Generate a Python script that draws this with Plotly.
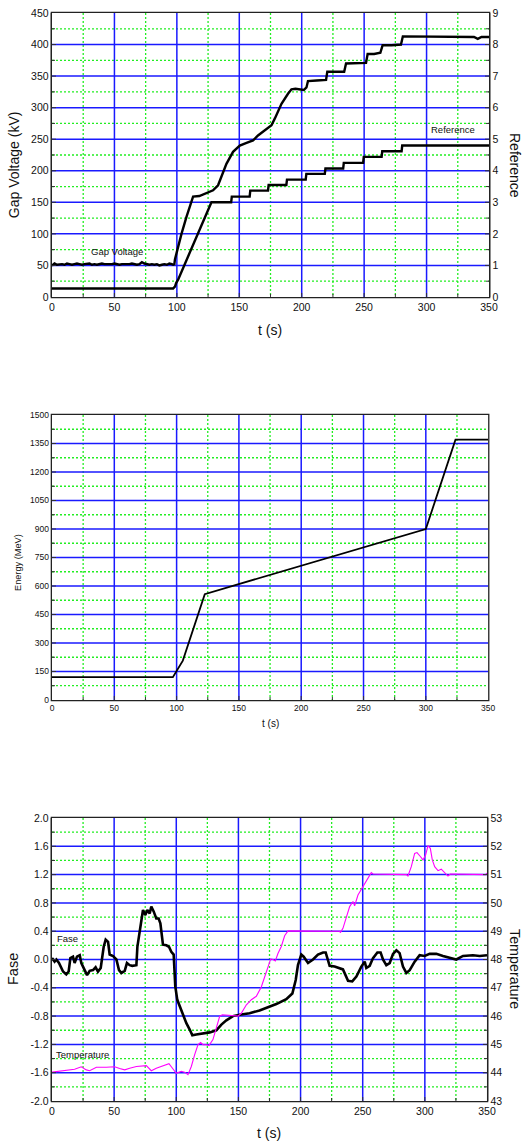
import plotly.graph_objects as go

# ---------------- data: top chart ----------------
gap_t = [0, 2, 4, 6, 8, 10, 12, 14, 16, 18, 20, 22, 24, 26, 28, 30, 32, 34, 36, 38,
         40, 42, 44, 46, 48, 50, 52, 54, 56, 58, 60, 62, 64, 66, 68, 70, 72, 74, 76, 78,
         80, 82, 84, 86, 88, 90, 92, 94, 96,
         97, 98, 98.5, 99.7, 101, 103.7, 107.7, 112.2, 113, 118, 123.7, 129, 133, 135.8,
         139.7, 145, 150.4, 155.8, 161, 165, 170.5, 175.8, 178.5, 183.8, 189, 191.8, 195,
         198.5, 201.7, 203.8, 205, 212, 219.5, 220.5, 228, 234, 235.5, 243, 251.5, 252.8,
         258, 263, 264.8, 272, 279.5, 281, 290, 300, 310, 320, 330, 338, 341, 344, 350]
gap_v = [50, 53, 51, 52, 52, 51, 53, 52, 51, 52, 53, 52, 51, 52, 52, 53, 51, 52, 51, 52,
         53, 52, 52, 51, 52, 53, 52, 51, 52, 52, 51, 52, 53, 52, 51, 52, 55, 53, 52, 51,
         52, 51, 52, 50, 51, 52, 51, 53, 52,
         51, 52, 60, 69, 80, 100, 127, 156, 159, 160, 165, 169, 177, 190,
         211, 230, 240, 244, 248, 256, 264, 272, 283, 306, 322, 329, 330,
         329, 328, 332, 342, 343, 344, 357, 357, 357, 370, 370, 371, 385,
         385, 387, 399, 399, 400, 413, 413, 412, 413, 412, 413, 412, 409, 412, 412]

ref_t = [0, 97, 98.5, 99.5, 101, 127.7, 143.5, 144, 158.3, 158.8, 173, 173.5, 187.7, 188.2,
         203.2, 203.7, 218.5, 219, 233.2, 233.7, 249.2, 249.7, 264, 264.5, 280, 280.5, 350]
ref_v = [0.27, 0.27, 0.33, 0.45, 0.55, 3.0, 3.0, 3.18, 3.18, 3.37, 3.37, 3.55, 3.55, 3.72,
         3.72, 3.9, 3.9, 4.07, 4.07, 4.25, 4.25, 4.44, 4.44, 4.62, 4.62, 4.8, 4.8]

# ---------------- data: middle chart ----------------
energy_t = [0, 97, 105, 114.5, 122.6, 300, 323.8, 350]
energy_v = [120, 120, 207, 395, 557, 900, 1370, 1370]

# ---------------- data: bottom chart ----------------
fase_t = [0, 2.1, 3.5, 5.6, 8.9, 11.5, 13.4, 14.8, 16.9, 18.2, 20.1, 22.3, 23.6, 26.3, 28.2,
          30.3, 33, 35.1, 37, 39.2, 40.5, 41.6, 43.2, 45.1, 46.4, 49.1, 51.8, 53.9, 55.8,
          58.5, 60.3, 62.5, 64.6, 66.5, 67.9, 68.7, 70.5, 71.9, 73.2, 75.1, 76.7, 78.6,
          79.9, 81.8, 83.9, 85.8, 87.2, 89.3, 92, 94.1, 96, 97.9, 99.2, 100.8, 102.7,
          104.9, 108.1, 110.8, 112.9, 116.1, 121.5, 126.9, 132.2, 136.3, 140.3, 145.6,
          151, 159, 167, 175.1, 180.5, 188.5, 193.4, 196.1, 197.9, 200.6, 202.5, 206, 210,
          214, 218.1, 220.2, 223.4, 227.4, 230.1, 234.1, 238.2, 241.6, 244.9, 248.9, 251.6,
          252.9, 255.6, 258.3, 261.8, 264.4, 266.3, 269, 271.7, 274.4, 277.1, 279.7, 282.4,
          285.1, 287.8, 291.8, 295.8, 299.8, 303.9, 309.2, 314.6, 320, 325.3, 330.7, 338.7,
          344.1, 350]
fase_v = [0.02, -0.03, 0.0, -0.05, -0.17, -0.21, -0.17, 0.02, 0.04, -0.05, 0.04, 0.06, -0.05,
          -0.15, -0.22, -0.16, -0.15, -0.11, -0.17, -0.12, 0.07, 0.18, 0.28, 0.25, 0.07,
          0.05, 0.0, -0.15, -0.19, -0.16, -0.05, -0.08, -0.09, -0.08, -0.08, 0.18, 0.37,
          0.58, 0.70, 0.63, 0.70, 0.65, 0.75, 0.68, 0.58, 0.58, 0.51, 0.21, 0.20, 0.18,
          0.11, 0.07, -0.38, -0.57, -0.66, -0.76, -0.90, -0.99, -1.07, -1.06, -1.05,
          -1.03, -1.00, -0.92, -0.86, -0.80, -0.78, -0.76, -0.72, -0.67, -0.63, -0.56,
          -0.48, -0.29, -0.08, 0.07, 0.04, -0.05, 0.0, 0.07, 0.10, 0.10, -0.09, -0.10,
          -0.12, -0.14, -0.30, -0.31, -0.24, -0.10, -0.03, -0.12, -0.09, 0.02, 0.10, 0.10,
          0.0, -0.08, -0.05, 0.08, 0.13, 0.09, -0.10, -0.19, -0.15, -0.03, 0.06, 0.05,
          0.08, 0.08, 0.05, 0.02, 0.0, 0.05, 0.06, 0.05, 0.06]

temp_t = [0, 11.5, 15.6, 18.2, 23.6, 27.6, 30.3, 35.7, 43.7, 50.4, 54.4, 58.5, 62.5, 67.9,
          75.9, 79.9, 83.9, 89.3, 94.1, 97.4, 100, 104, 106.7, 109.4, 112.1, 114.8, 117.5,
          119.6, 121.5, 124.2, 126.3, 129.5, 132.2, 134.9, 137, 149.7, 152.3, 156.4, 160.4,
          164.4, 168.4, 171.1, 173.8, 176, 177.8, 179.7, 181.8, 184.5, 187.2, 189.9, 231.5,
          232, 234.1, 236.8, 239.5, 242.2, 243.5, 246.2, 248.9, 251.6, 254.2, 256.9, 258.3,
          285.1, 286.4, 289.1, 291.8, 293.7, 296.4, 298.5, 300.6, 302.5, 304.4, 306, 307.9,
          310.6, 313.2, 315.9, 318.6, 320.5, 349, 350]
temp_v = [44.02, 44.08, 44.1, 44.12, 44.21, 44.1, 44.07, 44.19, 44.19, 44.21, 44.15, 44.1,
          44.16, 44.22, 44.25, 44.07, 44.16, 44.25, 44.32, 44.13, 43.98, 44.05, 44.02,
          43.93, 44.22, 44.64, 44.99, 45.07, 44.99, 44.99, 44.96, 45.17, 45.63, 45.99,
          46.05, 46.0, 46.1, 46.4, 46.58, 46.7, 47.03, 47.4, 47.75, 48.02, 48.0, 47.95,
          48.21, 48.46, 48.84, 49.01, 49.0, 48.95, 49.1, 49.46, 49.87, 50.05, 49.9, 50.28,
          50.48, 50.69, 50.87, 51.07, 51.02, 51.0, 50.95, 51.28, 51.75, 51.78, 51.64, 51.52,
          51.69, 52.02, 51.93, 51.52, 51.28, 51.14, 51.19, 51.07, 50.95, 51.02, 51.0, 51.05]

# tick labels
t_ticks = [0, 50, 100, 150, 200, 250, 300, 350]
gap_ticks = [0, 50, 100, 150, 200, 250, 300, 350, 400, 450]
ref_ticks = [0, 1, 2, 3, 4, 5, 6, 7, 8, 9]
energy_ticks = [0, 150, 300, 450, 600, 750, 900, 1050, 1200, 1350, 1500]
fase_ticks = [-2.0, -1.6, -1.2, -0.8, -0.4, 0.0, 0.4, 0.8, 1.2, 1.6, 2.0]
fase_labels = ["-2.0", "-1.6", "-1.2", "-0.8", "-0.4", "0.0", "0.4", "0.8", "1.2", "1.6", "2.0"]
temp_ticks = [43, 44, 45, 46, 47, 48, 49, 50, 51, 52, 53]

FONT = "Liberation Sans, Arial, sans-serif"
BLUE = "#1a1aff"
GREEN = "#22ee22"
TXT = "#111111"


def halves(vals):
    """positions midway between consecutive major ticks (minor grid)."""
    return [(a + b) / 2 for a, b in zip(vals[:-1], vals[1:])]


fig = go.Figure()
fig.add_trace(go.Scatter(x=gap_t, y=gap_v, mode="lines", line=dict(color="black", width=2.4),
                         xaxis="x", yaxis="y", showlegend=False, hoverinfo="skip"))
fig.add_trace(go.Scatter(x=ref_t, y=ref_v, mode="lines", line=dict(color="black", width=2.4),
                         xaxis="x", yaxis="y2", showlegend=False, hoverinfo="skip"))
fig.add_trace(go.Scatter(x=energy_t, y=energy_v, mode="lines", line=dict(color="black", width=1.8),
                         xaxis="x2", yaxis="y3", showlegend=False, hoverinfo="skip"))
fig.add_trace(go.Scatter(x=temp_t, y=temp_v, mode="lines", line=dict(color="#ff00ff", width=1.1),
                         xaxis="x3", yaxis="y5", showlegend=False, hoverinfo="skip"))
fig.add_trace(go.Scatter(x=fase_t, y=fase_v, mode="lines", line=dict(color="black", width=2.6),
                         xaxis="x3", yaxis="y4", showlegend=False, hoverinfo="skip"))


def axis(domain, anchor, rng, vals, fs, labels=None, side=None, overlay=None, grid=True):
    d = dict(anchor=anchor, range=rng, tickmode="array", tickvals=vals,
             showgrid=grid, gridcolor=BLUE, gridwidth=1.5, zeroline=False, automargin=False,
             showline=True, linecolor="#222", linewidth=1.3, mirror=True,
             ticks="inside", ticklen=4, tickcolor="#333",
             tickfont=dict(family=FONT, size=fs, color=TXT),
             minor=dict(tickmode="array", tickvals=halves(vals), showgrid=grid, gridcolor=GREEN,
                        griddash="2px,2px", gridwidth=1.3, ticks="inside", ticklen=3,
                        tickcolor="#333"))
    if domain is not None:
        d["domain"] = domain
    if side:
        d["side"] = side
    if labels is not None:
        d["ticktext"] = labels
    if overlay:
        d["overlaying"] = overlay
    return d


D_TOP = [0.739, 1.0]
D_MID = [0.3686, 0.6305]
D_BOT = [0.0, 0.2601]

fig.update_layout(
    template="none",
    width=529, height=1143,
    margin=dict(l=52, r=40, t=13, b=42, autoexpand=False),
    paper_bgcolor="white", plot_bgcolor="white",
    font=dict(family=FONT, color=TXT),
    hovermode=False,
    xaxis=axis([0, 1], "y", [0, 350], t_ticks, 10.5),
    yaxis=axis(D_TOP, "x", [0, 450], gap_ticks, 10.5),
    yaxis2=axis(None, "x", [0, 9], ref_ticks, 10.5, side="right", overlay="y", grid=False),
    xaxis2=axis([0, 0.998], "y3", [0, 350], t_ticks, 8.5),
    yaxis3=axis(D_MID, "x2", [0, 1500], energy_ticks, 8.5),
    xaxis3=axis([0, 0.9954], "y4", [0, 350], t_ticks, 10.5),
    yaxis4=axis(D_BOT, "x3", [-2, 2], fase_ticks, 10.5, labels=fase_labels),
    yaxis5=axis(None, "x3", [43, 53], temp_ticks, 10.5, side="right", overlay="y4", grid=False),
)

ann = []


def title(text, x, y, size, angle=0):
    ann.append(dict(text=text, x=x, y=y, xref="paper", yref="paper", showarrow=False,
                    textangle=angle, font=dict(family=FONT, size=size, color=TXT),
                    xanchor="center", yanchor="middle"))


title("Gap Voltage (kV)", -0.087, 0.861, 14, -90)
title("t (s)", 0.499, 0.7086, 14)
title("Reference", 1.0595, 0.8603, 14, 90)
title("Energy (MeV)", -0.0778, 0.4945, 9.2, -90)
title("t (s)", 0.499, 0.3474, 10)
title("Fase", -0.0892, 0.1213, 14.5, -90)
title("Temperature", 1.0595, 0.1213, 14.3, 90)
title("t (s)", 0.497, -0.0294, 14)


def label(text, x, y, xr, yr):
    ann.append(dict(text=text, x=x, y=y, xref=xr, yref=yr, showarrow=False,
                    font=dict(family=FONT, size=9.5, color=TXT), xanchor="center", yanchor="middle"))


label("Gap Voltage", 52, 72, "x", "y")
label("Reference", 321, 265, "x", "y")
label("Fase", 12.6, 0.29, "x3", "y4")
label("Temperature", 24.3, -1.34, "x3", "y4")

fig.update_layout(annotations=ann)

POST = (
    "document.body.style.margin='0';document.body.style.overflow='hidden';"
    "var st=document.createElement('style');"
    "st.textContent='.js-plotly-plot .plotly .crisp{shape-rendering:geometricPrecision !important;}';"
    "document.head.appendChild(st);"
    "document.querySelectorAll('.crisp').forEach(function(e){e.style.shapeRendering='geometricPrecision';});"
)
fig.write_html("out.html", config={"displayModeBar": False, "staticPlot": True}, post_script=POST)
